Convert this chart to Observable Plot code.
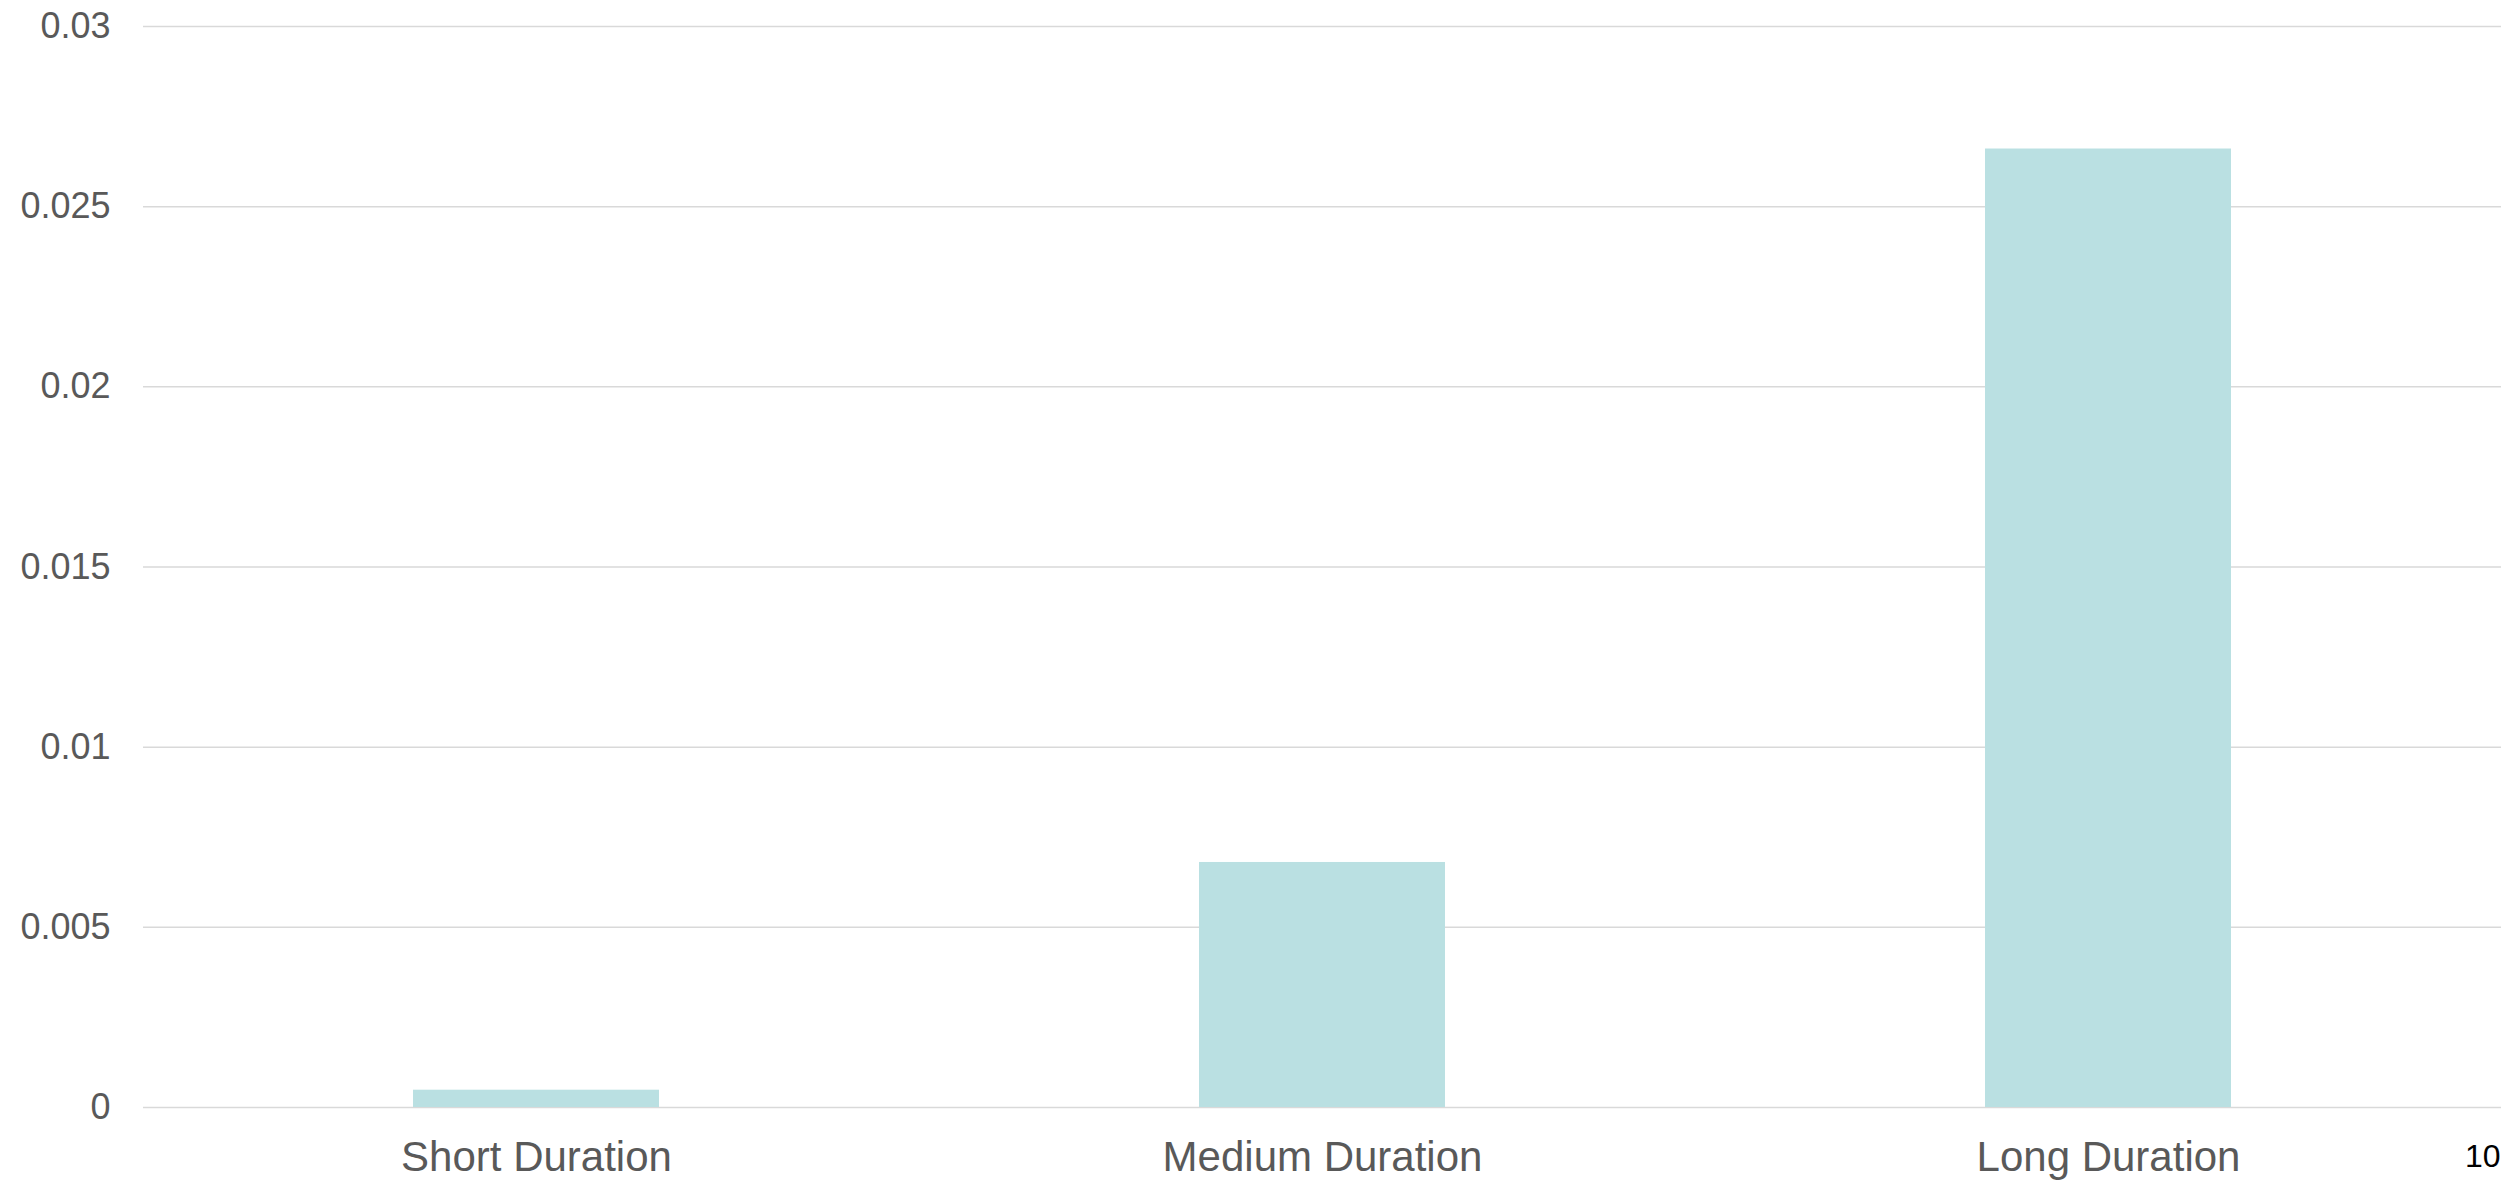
<!DOCTYPE html>
<html>
<head>
<meta charset="utf-8">
<script src="https://cdn.jsdelivr.net/npm/d3@7"></script>
<script src="https://cdn.jsdelivr.net/npm/@observablehq/plot@0.6"></script>
<style>
  html, body { margin: 0; padding: 0; background: #ffffff; }
  #chart { width: 2509px; height: 1189px; overflow: hidden; }
</style>
</head>
<body>
<div id="chart"></div>
<script>
const categories = ["Short Duration", "Medium Duration", "Long Duration"];
const values = [0.00048, 0.0068, 0.0266];
const yTicks = [0, 0.005, 0.01, 0.015, 0.02, 0.025, 0.03];
const pageLabel = ["10"];

const data = categories.map((c, i) => ({category: c, value: values[i]}));

const chart = Plot.plot({
  width: 2509,
  height: 1189,
  marginTop: 26,
  marginBottom: 82,
  marginLeft: 143,
  marginRight: 8,
  style: {fontFamily: "'Liberation Sans', Arial, sans-serif", background: "#ffffff"},
  x: {domain: categories, paddingInner: 0.687, paddingOuter: 0.3435, label: null},
  y: {domain: [0, 0.03], label: null},
  marks: [
    Plot.ruleY(yTicks, {stroke: "#d9d9d9", strokeWidth: 1.5}),
    Plot.barY(data, {x: "category", y: "value", fill: "#bae0e2"}),
    Plot.axisY({ticks: yTicks, tickFormat: d => String(d), tickSize: 0, tickPadding: 33, fontSize: 36, color: "#595959", label: null}),
    Plot.axisX({tickSize: 0, tickPadding: 34, fontSize: 42, color: "#595959", label: null}),
    Plot.text(pageLabel, {frameAnchor: "bottom-right", text: d => d, textAnchor: "end", dy: 59.5, dx: -1, fontSize: 32, fill: "#000000"})
  ]
});
document.getElementById("chart").appendChild(chart);
</script>
</body>
</html>
